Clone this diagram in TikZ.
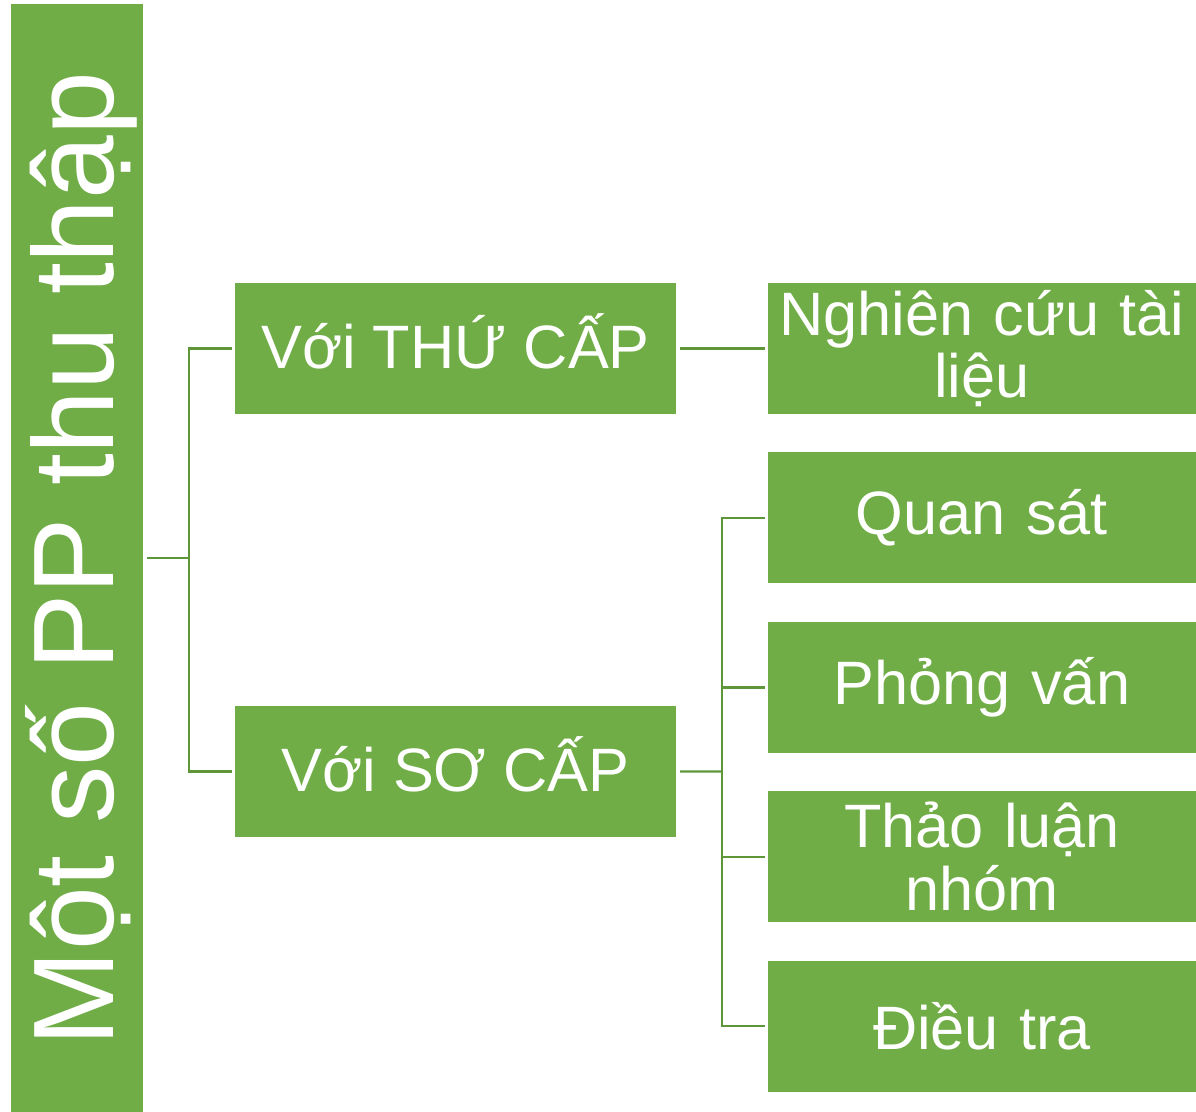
\documentclass[tikz,border=0pt]{standalone}
\usepackage{fontspec}
\setmainfont{Liberation Sans}
\usepackage{tikz}
\usetikzlibrary{positioning, calc}
\definecolor{boxgreen}{RGB}{112,173,71}
\definecolor{linegreen}{RGB}{96,150,58}
\tikzset{
  rootbox/.style={rectangle, fill=boxgreen, minimum width=132bp,
    minimum height=1108bp, inner sep=0pt},
  midbox/.style={rectangle, fill=boxgreen, minimum width=441bp,
    minimum height=131bp, text=white, inner sep=0pt,
    text height=47bp, text depth=8bp,
    font=\fontsize{61.5}{63}\selectfont},
  leafbox/.style={rectangle, fill=boxgreen, minimum width=428bp,
    minimum height=131bp, text width=424bp, align=center, text=white,
    inner sep=0pt, font=\fontsize{61.5}{63}\selectfont},
  link/.style={draw=linegreen, line width=2.4bp}
}

\begin{document}
\begin{tikzpicture}[x=1bp, y=-1bp]
  \useasboundingbox (0,0) rectangle (1196,1112);

  % Root
  \node[rootbox] (root) at (77,558) {};
  \node[rotate=90, anchor=base, text=white, inner sep=0pt,
    font=\fontsize{115}{115}\selectfont] (title) at (113,559) {Một số PP thu thập};

  % Middle level
  \node[midbox] (thucap) at (455.5,348.5) {Với THỨ CẤP};
  \node[midbox] (socap) at (455.5,771.5) {Với SƠ CẤP};

  % Leaves
  \node[leafbox] (nghiencuu) at (982,348.5) {Nghiên cứu tài\\liệu};
  \node[leafbox, below=38bp of nghiencuu] (quansat) {Quan sát};
  \node[leafbox, below=38bp of quansat] (phongvan) {Phỏng vấn};
  \node[leafbox, below=38bp of phongvan] (thaoluan) {Thảo luận\\nhóm};
  \node[leafbox, below=38bp of thaoluan] (dieutra) {Điều tra};

  % Connectors
  \coordinate (j1) at ($(root.east)!0.5!(thucap.west |- root.east)$);
  \draw[link, shorten <=4bp] (root.east) -- (j1);
  \draw[link, shorten >=3bp] (j1) |- (thucap.west);
  \draw[link, shorten >=3bp] (j1) |- (socap.west);

  \draw[link, shorten <=4bp, shorten >=3bp] (thucap.east) -- (nghiencuu.west);

  \coordinate (j2) at ($(socap.east)!0.5!(quansat.west |- socap.east)$);
  \draw[link, shorten <=4bp] (socap.east) -- (j2);
  \foreach \leaf in {quansat, phongvan, thaoluan, dieutra}
    \draw[link, shorten >=3bp] (j2) |- (\leaf.west);
\end{tikzpicture}
\end{document}
